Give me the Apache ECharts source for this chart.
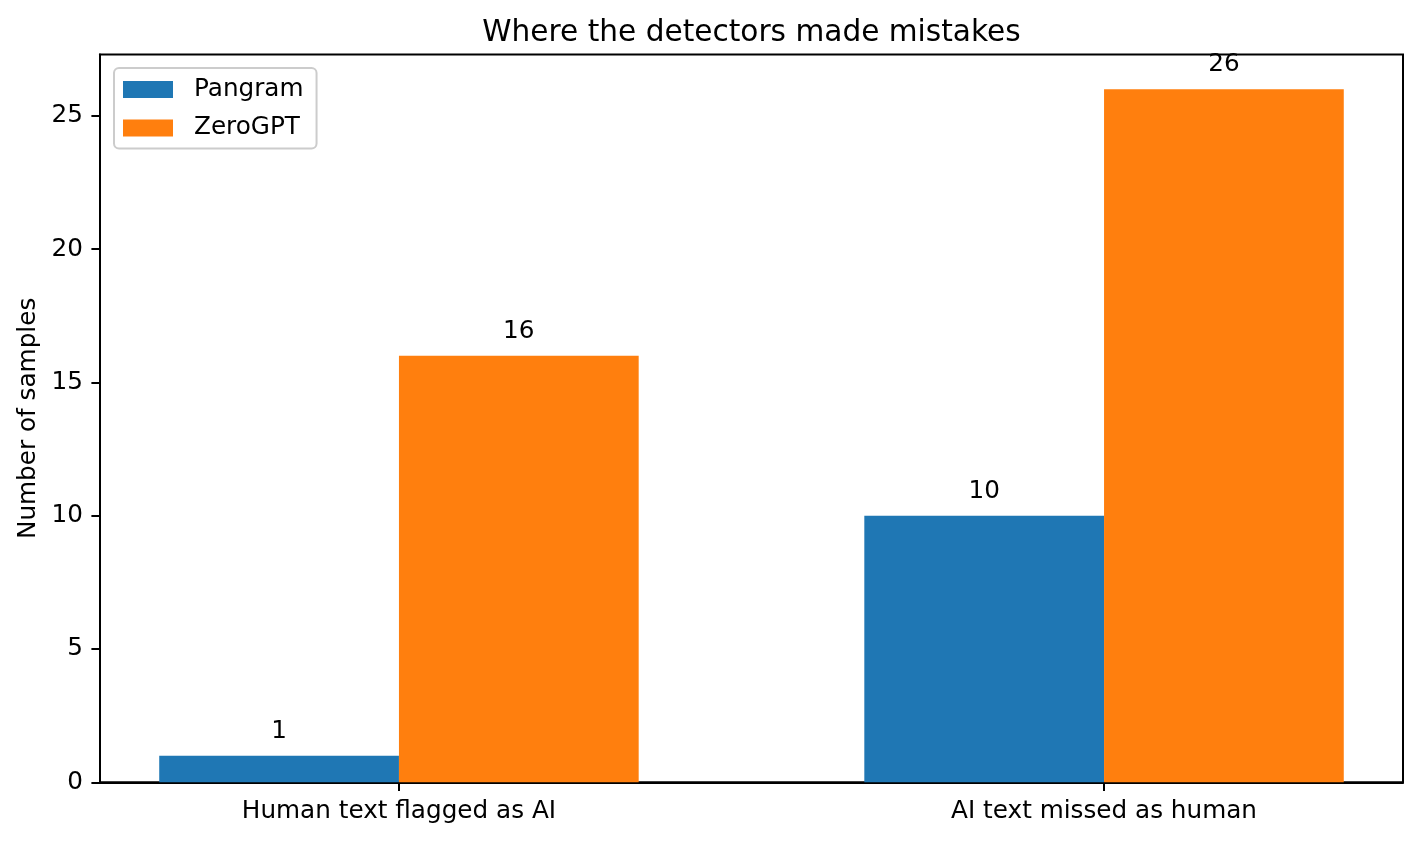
<!DOCTYPE html>
<html>
<head>
<meta charset="utf-8">
<script src="https://cdn.jsdelivr.net/npm/echarts@6/dist/echarts.min.js"></script>
<style>html,body{margin:0;padding:0;background:#fff;}#c{width:1420px;height:842px;}</style>
</head>
<body>
<div id="c"></div>
<script>
const categories = ['Human text flagged as AI', 'AI text missed as human'];
const seriesNames = ['Pangram', 'ZeroGPT'];
const pangram = [1, 10];
const zerogpt = [16, 26];
const yTicks = [0, 5, 10, 15, 20, 25];

const FONT = 'DejaVu Sans';
const FS = 24.7;
const chart = echarts.init(document.getElementById('c'), null, {renderer: 'canvas'});
const toXY = arr => arr.map((v, i) => [i, v]);
const barLabel = {show: true, position: 'top', distance: 12, color: '#000', fontFamily: FONT, fontSize: FS};

chart.setOption({
  animation: false,
  backgroundColor: '#fff',
  title: {
    text: 'Where the detectors made mistakes',
    left: 751.5, top: 18, padding: 0, textAlign: 'center',
    textStyle: {fontFamily: FONT, fontSize: 29.6, fontWeight: 'normal', color: '#000'}
  },
  legend: {
    left: 114, top: 68, orient: 'vertical',
    itemWidth: 50, itemHeight: 17, itemGap: 13.5,
    padding: [9, 13, 8, 9],
    backgroundColor: 'rgba(255,255,255,0.8)',
    borderColor: '#cccccc', borderWidth: 2, borderRadius: 5,
    textStyle: {fontFamily: FONT, fontSize: FS, color: '#000', lineHeight: 25, padding: [0, 0, 0, 16]},
    icon: 'rect',
    data: seriesNames
  },
  grid: {
    left: 100, right: 17, top: 54.5, bottom: 59.7,
    outerBoundsMode: 'none', containLabel: false,
    show: true, borderColor: '#000', borderWidth: 2, backgroundColor: 'transparent'
  },
  xAxis: {
    type: 'value', min: -0.424, max: 1.424,
    splitLine: {show: false},
    axisLine: {show: true, onZero: false, lineStyle: {color: '#000', width: 2}},
    axisTick: {show: true, length: 8.6, lineStyle: {color: '#000', width: 2}, customValues: [0, 1]},
    axisLabel: {
      customValues: [0, 1], margin: 17, color: '#000', fontFamily: FONT, fontSize: FS,
      formatter: v => categories[Math.round(v)] || ''
    }
  },
  yAxis: {
    type: 'value', min: 0, max: 27.3,
    name: 'Number of samples', nameLocation: 'middle', nameGap: 59,
    nameTextStyle: {fontFamily: FONT, fontSize: FS, color: '#000'},
    splitLine: {show: false},
    axisLine: {show: true, onZero: false, lineStyle: {color: '#000', width: 2}},
    axisTick: {show: true, length: 8.6, lineStyle: {color: '#000', width: 2}, customValues: yTicks},
    axisLabel: {customValues: yTicks, margin: 17, color: '#000', fontFamily: FONT, fontSize: FS}
  },
  series: [
    {name: seriesNames[0], type: 'bar', data: toXY(pangram), barWidth: '34%', barGap: '0%',
     itemStyle: {color: '#1f77b4'}, label: barLabel},
    {name: seriesNames[1], type: 'bar', data: toXY(zerogpt), barWidth: '34%', barGap: '0%',
     itemStyle: {color: '#ff7f0e'}, label: barLabel}
  ]
});
</script>
</body>
</html>
